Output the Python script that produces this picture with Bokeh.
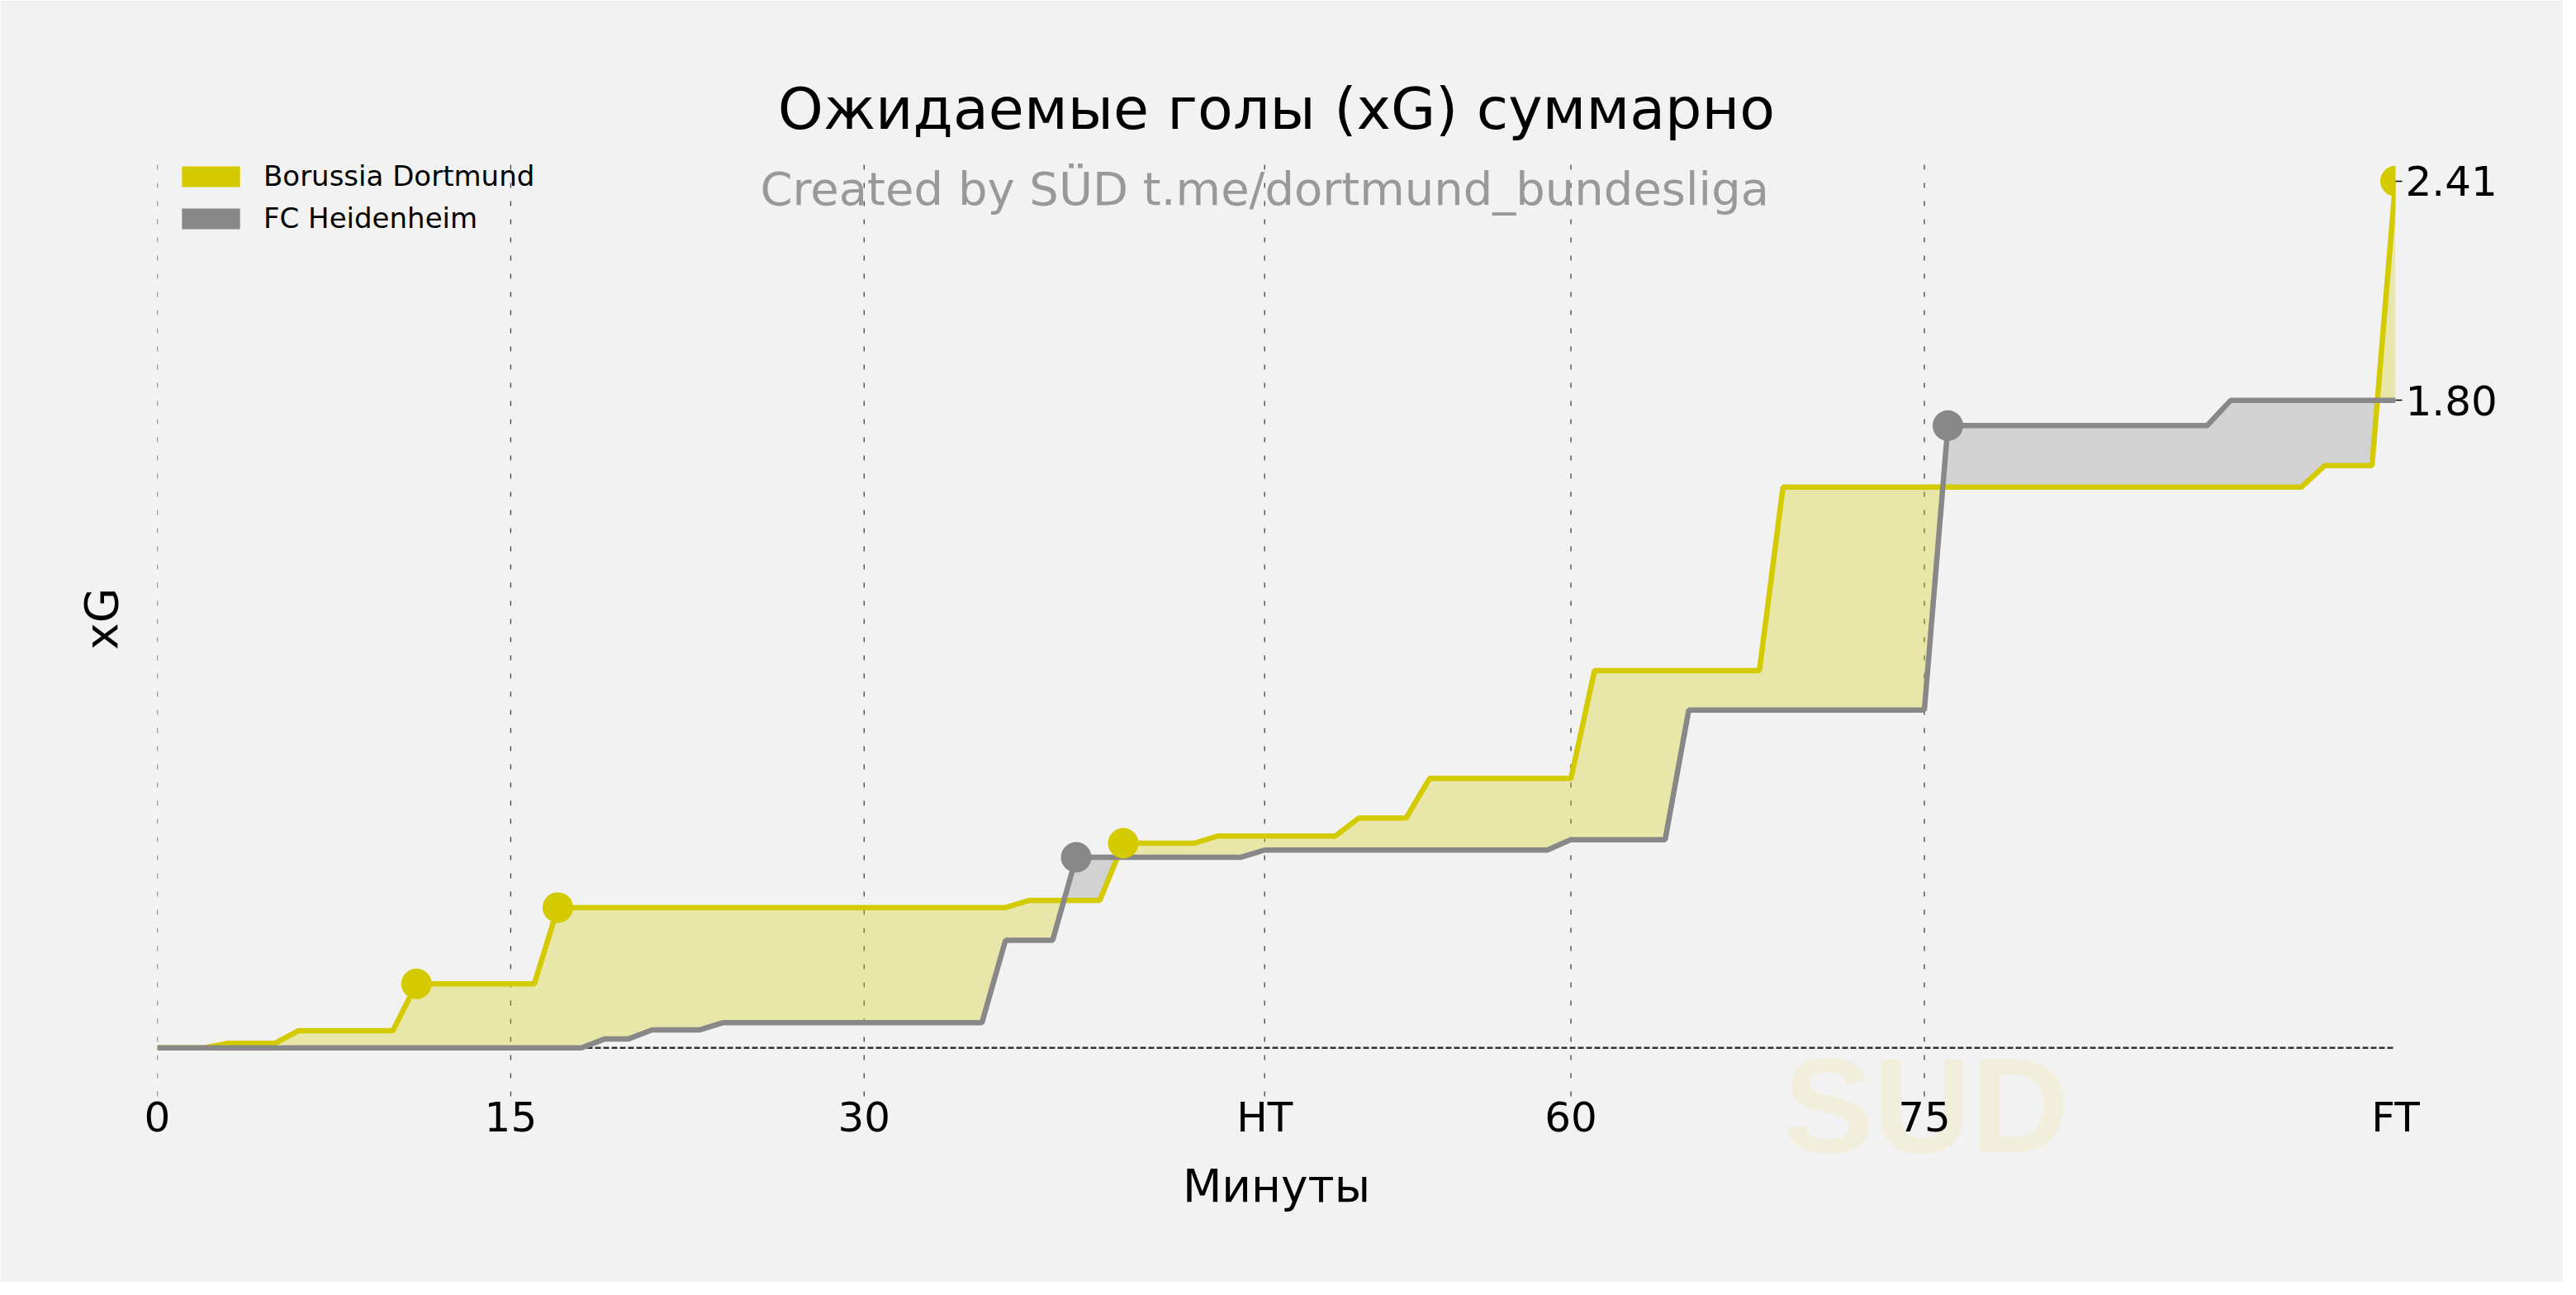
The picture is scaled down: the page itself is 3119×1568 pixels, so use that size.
import numpy as np
from bokeh.plotting import figure
from bokeh.models import (Range1d, LinearAxis, FixedTicker, PrintfTickFormatter,
                          Span, Label, Legend, LegendItem)
from bokeh.embed import file_html
from bokeh.resources import INLINE

# ---------------- data ----------------
teams = ["Borussia Dortmund", "FC Heidenheim"]

minutes_bvb = [0, 2, 3, 5, 6, 10, 11, 16, 17, 36, 37, 40, 41, 44, 45, 50, 51,
               53, 54, 60, 61, 68, 69, 91, 92, 94, 95]
xg_bvb = [0.0, 0.0, 0.013, 0.013, 0.048, 0.048, 0.178, 0.178, 0.39, 0.39, 0.41,
          0.41, 0.569, 0.569, 0.589, 0.589, 0.639, 0.639, 0.749, 0.749, 1.049,
          1.049, 1.559, 1.559, 1.619, 1.619, 2.41]

minutes_fch = [0, 18, 19, 20, 21, 23, 24, 35, 36, 38, 39, 46, 47, 59, 60, 64,
               65, 75, 76, 87, 88, 95]
xg_fch = [0.0, 0.0, 0.025, 0.025, 0.05, 0.05, 0.07, 0.07, 0.299, 0.299, 0.53,
          0.53, 0.55, 0.55, 0.579, 0.579, 0.939, 0.939, 1.73, 1.73, 1.80, 1.80]

goal_minutes_bvb = [11, 17, 41, 95]
goal_minutes_fch = [39, 76]

tick_minutes = [0, 15, 30, 47, 60, 75, 95]
tick_labels = ["0", "15", "30", "HT", "60", "75", "FT"]
grid_minutes = [0, 15, 30, 47, 60, 75]

title_text = "Ожидаемые голы (xG) суммарно"
subtitle_text = "Created by SÜD t.me/dortmund_bundesliga"
xlabel_text = "Минуты"
ylabel_text = "xG"
watermark_text = "SUD"

# ---------------- styles / layout ----------------
YELLOW = "#d4ca00"
GREY = "#888888"
BG = "#f2f2f2"
FONT = "DejaVu Sans"

# axes limits of the visible chart area (grid extent) and of the drawing frame
AX_Y0, AX_Y1 = -0.135, 2.492
FRAME_Y0 = -0.307          # frame reaches lower so the watermark is not clipped

W, H = 3103, 1552
BL, BR, BT, BB = 190, 203, 183, 150
FRAME_H = H - BT - BB

p = figure(width=W, height=H, output_backend="svg", toolbar_location=None,
           x_range=Range1d(0, 95), y_range=Range1d(FRAME_Y0, AX_Y1),
           min_border_left=BL, min_border_right=BR, min_border_top=BT,
           min_border_bottom=BB)
p.background_fill_color = BG
p.border_fill_color = BG
p.outline_line_color = None

# title
p.title.text = title_text
p.title.align = "center"
p.title.text_font = FONT
p.title.text_font_size = "70px"
p.title.text_font_style = "normal"
p.title.text_color = "#000000"
p.title.standoff = 22

# watermark
p.add_layout(Label(x=69.0, y=-0.161, text=watermark_text, text_font="Liberation Sans",
                   text_font_style="bold", text_font_size="164px",
                   text_color="#f1efdc", text_baseline="middle", level="underlay"))

# vertical dashed grid lines limited to the axes area
p.xgrid.visible = False
p.ygrid.visible = False
n_grid = len(grid_minutes)
p.segment(x0=grid_minutes, y0=[AX_Y0] * n_grid, x1=grid_minutes, y1=[AX_Y1] * n_grid,
          line_color="#444444", line_width=1.3, line_dash="6 16", level="underlay")

# x axis (labels pulled up into the frame to sit under the axes area)
xa = p.xaxis[0]
xa.ticker = FixedTicker(ticks=tick_minutes)
xa.major_label_overrides = {t: l for t, l in zip(tick_minutes, tick_labels)}
xa.axis_line_color = None
xa.major_tick_line_color = None
xa.major_tick_out = 0
xa.major_tick_in = 0
xa.minor_tick_line_color = None
xa.major_label_text_font = FONT
xa.major_label_text_font_size = "50px"
xa.major_label_text_color = "#000000"
xa.major_label_standoff = -79
xa.axis_label = xlabel_text
xa.axis_label_text_font = FONT
xa.axis_label_text_font_size = "55px"
xa.axis_label_text_font_style = "normal"
xa.axis_label_text_color = "#000000"
xa.axis_label_standoff = 19

# left axis (label only); leading fixed-width spaces lift the label to the
# centre of the axes area instead of the taller frame
ya = p.yaxis[0]
ya.ticker = FixedTicker(ticks=[])
ya.axis_line_color = None
ya.major_tick_line_color = None
ya.major_tick_out = 0
ya.minor_tick_line_color = None
ya.major_label_text_font_size = "0px"
ya.axis_label = "\u2007\u2007\u00a0" + ylabel_text
ya.axis_label_text_font = FONT
ya.axis_label_text_font_size = "55px"
ya.axis_label_text_font_style = "normal"
ya.axis_label_text_color = "#000000"
ya.axis_label_standoff = 36

# right axis with final values
ra = LinearAxis(ticker=FixedTicker(ticks=[xg_bvb[-1], xg_fch[-1]]),
                formatter=PrintfTickFormatter(format="%.2f"))
ra.axis_line_color = None
ra.major_tick_in = 0
ra.major_tick_out = 8
ra.major_tick_line_color = "#000000"
ra.major_tick_line_width = 1.5
ra.minor_tick_line_color = None
ra.major_label_text_font = FONT
ra.major_label_text_font_size = "50px"
ra.major_label_text_color = "#000000"
ra.major_label_standoff = 4
p.add_layout(ra, "right")

# baseline at 0
p.add_layout(Span(location=0, dimension="width", line_color="#333333",
                  line_width=2.5, line_dash="7 3", level="underlay"))

# fill between with crossings
grid = np.union1d(minutes_bvb, minutes_fch).astype(float)
d = np.interp(grid, minutes_bvb, xg_bvb)
h = np.interp(grid, minutes_fch, xg_fch)
xs, ds, hs = [grid[0]], [d[0]], [h[0]]
for i in range(1, len(grid)):
    a = d[i - 1] - h[i - 1]
    b = d[i] - h[i]
    if a * b < 0:
        t = a / (a - b)
        xc = grid[i - 1] + t * (grid[i] - grid[i - 1])
        yc = d[i - 1] + t * (d[i] - d[i - 1])
        xs.append(xc); ds.append(yc); hs.append(yc)
    xs.append(grid[i]); ds.append(d[i]); hs.append(h[i])
xs = np.array(xs); ds = np.array(ds); hs = np.array(hs)
top = np.maximum(ds, hs)

p.varea(x=xs, y1=hs, y2=top, fill_color=YELLOW, fill_alpha=0.3)
p.varea(x=xs, y1=ds, y2=top, fill_color=GREY, fill_alpha=0.3)

# lines
p.line(minutes_bvb, xg_bvb, line_color=YELLOW, line_width=6.5)
p.line(minutes_fch, xg_fch, line_color=GREY, line_width=6.5)

# goal markers
p.scatter(goal_minutes_bvb, np.interp(goal_minutes_bvb, minutes_bvb, xg_bvb),
          size=37, fill_color=YELLOW, line_color=None)
p.scatter(goal_minutes_fch, np.interp(goal_minutes_fch, minutes_fch, xg_fch),
          size=37, fill_color=GREY, line_color=None)

# subtitle
p.add_layout(Label(x=47, y=2.389, text=subtitle_text, text_font=FONT,
                   text_font_size="56px", text_color="#999999",
                   text_align="center", text_baseline="middle"))

# legend swatches: solid-colour areas of each series, kept hidden
leg_bvb = p.varea(x=minutes_bvb, y1=0, y2=xg_bvb, fill_color=YELLOW, visible=False)
leg_fch = p.varea(x=minutes_fch, y1=0, y2=xg_fch, fill_color=GREY, visible=False)
legend = Legend(items=[LegendItem(label=teams[0], renderers=[leg_bvb]),
                       LegendItem(label=teams[1], renderers=[leg_fch])],
                location=(21, FRAME_H - 10 - 91))
legend.margin = 0
legend.padding = 0
legend.border_line_color = None
legend.background_fill_alpha = 0
legend.inactive_fill_alpha = 0
legend.glyph_width = 88
legend.glyph_height = 31
legend.label_height = 25
legend.label_standoff = 20
legend.spacing = 11
legend.label_text_font = FONT
legend.label_text_font_size = "34px"
legend.label_text_color = "#000000"
p.add_layout(legend)

open("out.html", "w").write(file_html(p, INLINE))
